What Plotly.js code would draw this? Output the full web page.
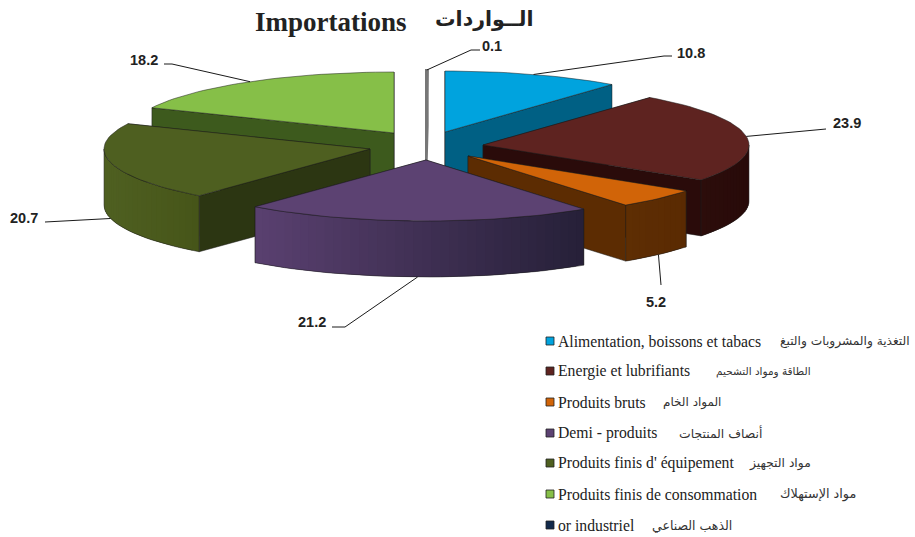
<!DOCTYPE html>
<html><head><meta charset="utf-8">
<script src="https://cdn.plot.ly/plotly-3.0.1.min.js"></script>
<style>html,body{margin:0;padding:0;background:#fff}#c{width:915px;height:537px}</style>
</head><body><div id="c"></div>
<script>
// ---- data ----
const categories = ["Alimentation, boissons et tabacs","Energie et lubrifiants","Produits bruts","Demi - produits","Produits finis d' équipement","Produits finis de consommation","or industriel"];
const categoriesAr = ["التغذية والمشروبات والتبغ","الطاقة ومواد التشحيم","المواد الخام","أنصاف المنتجات","مواد التجهيز","مواد الإستهلاك","الذهب الصناعي"];
const values = [10.8,23.9,5.2,21.2,20.7,18.2,0.1];
const valueLabels = ["10.8","23.9","5.2","21.2","20.7","18.2","0.1"];
// ---- styles ----
const topColors  = ["#00A3DE","#5E2320","#D16408","#5C4272","#4E5F20","#86BF48","#8A8A8A"];
const sideColors = ["#006084","#2A0B0A","#5C2C02","#2E2440","#2C3612","#3D5A1D","#8A8A8A"];
const wallLeft   = ["#00648A","#2C0D0B","#5E2E03","#5A4070","#4F6021","#4F6021","#8A8A8A"];
const wallRight  = ["#00648A","#280A09","#5A2A02","#262038","#465519","#4F6021","#8A8A8A"];
const swatchColors = ["#00A3DE","#5E2320","#D16408","#5C4272","#4E5F20","#86BF48","#12294B"];
const arSizes = [12.2,10.5,12,12.4,12.3,12.8,12.5];
// ---- layout geometry (pixels in a 915x537 plot space) ----
const RX=266, RY=61, DEPTH=56;
const apexX=[445,483,468,426,370,394,426];
const apexY=[132,145,156,160,149,133,131];
const drawOrder=[0,5,6,1,4,2,3];
const legendY=[341,371,402,433,463,494,525];
const legendArRight=[911,812,722,764,812,857,733];
const labelPos=[[691,53],[847,123],[656,302],[312,322],[24,218],[144,60],[492,46]];
const leaderBottom=[0,0,1,1,1,0,0];
const leaderElbows=[[[664,56],[672,56]],[[826,129]],[[661,285]],[[345,327],[332,327]],[[45,222]],[[172,64],[164,64]],[[471,50],[480,50]]];
const EDGE="#1c1c1c";

const traces=[];
const rad=d=>d*Math.PI/180;
function px(i,t){return apexX[i]+RX*Math.sin(rad(t));}
function py(i,t,dz){return apexY[i]-RY*Math.cos(rad(t))+(dz||0);}
function poly(xs,ys,fill,lineColor,w){
  traces.push({type:"scatter",mode:"lines",x:[...xs,xs[0]],y:[...ys,ys[0]],fill:"toself",fillcolor:fill,
    line:{color:lineColor,width:w},hoverinfo:"skip",showlegend:false});
}
function mix(a,b,f){
  const p=s=>[1,3,5].map(k=>parseInt(s.substr(k,2),16));
  const A=p(a),B=p(b);
  return "rgb("+A.map((v,k)=>Math.round(v+(B[k]-v)*f)).join(",")+")";
}
function arc(a,b){const n=Math.max(2,Math.ceil((b-a)/2));const r=[];for(let k=0;k<=n;k++)r.push(a+(b-a)*k/n);return r;}

let cum=0; const ranges=values.map(v=>{const s=cum;cum+=v*3.6;return [s,cum];});

function drawSlice(i){
  const [a,b]=ranges[i];
  const mid=(a+b)/2;
  const faces=[a,b].map(t=>{
    const ex=RX*Math.sin(rad(t)),ey=-RY*Math.cos(rad(t));
    const mx=RX*Math.sin(rad(mid)),my=-RY*Math.cos(rad(mid));
    return {t,vis:(ex*my-ey*mx)*ex<0};
  }).sort((p,q)=>p.vis-q.vis);
  const w=i===6?2:0.5, edge=i===6?"#777777":EDGE;
  faces.forEach(f=>{
    poly([apexX[i],px(i,f.t),px(i,f.t),apexX[i]],
         [apexY[i],py(i,f.t),py(i,f.t,DEPTH),apexY[i]+DEPTH],sideColors[i],edge,w);
  });
  // outer wall, only on the front half of the rim
  const wa=Math.max(a,90),wb=Math.min(b,270);
  if(wb>wa){
    const ts=arc(wa,wb);
    const minX=Math.min(...ts.map(t=>px(i,t))),maxX=Math.max(...ts.map(t=>px(i,t)));
    for(let k=0;k<ts.length-1;k++){
      const t0=ts[k],t1=ts[Math.min(k+2,ts.length-1)];
      const f=((px(i,t0)+px(i,ts[k+1]))/2-minX)/(maxX-minX||1);
      const c=mix(wallLeft[i],wallRight[i],f);
      poly([px(i,t0),px(i,t1),px(i,t1),px(i,t0)],[py(i,t0),py(i,t1),py(i,t1,DEPTH),py(i,t0,DEPTH)],c,c,0);
    }
    const X=[...ts.map(t=>px(i,t)),...ts.slice().reverse().map(t=>px(i,t))];
    const Y=[...ts.map(t=>py(i,t)),...ts.slice().reverse().map(t=>py(i,t,DEPTH))];
    traces.push({type:"scatter",mode:"lines",x:[...X,X[0]],y:[...Y,Y[0]],line:{color:EDGE,width:0.5},hoverinfo:"skip",showlegend:false});
  }
  const ts=arc(a,b);
  poly([apexX[i],...ts.map(t=>px(i,t))],[apexY[i],...ts.map(t=>py(i,t))],topColors[i],edge,w);
}
drawOrder.forEach(drawSlice);

// leader lines
values.forEach((v,i)=>{
  const m=(ranges[i][0]+ranges[i][1])/2;
  const sx=px(i,m), sy=py(i,m,leaderBottom[i]?DEPTH:0);
  traces.push({type:"scatter",mode:"lines",x:[sx,...leaderElbows[i].map(p=>p[0])],y:[sy,...leaderElbows[i].map(p=>p[1])],
    line:{color:"#1a1a1a",width:1},hoverinfo:"skip",showlegend:false});
});
// legend swatches
traces.push({type:"scatter",mode:"markers",x:categories.map(()=>550),y:legendY,
  marker:{symbol:"square",size:8,color:swatchColors,line:{color:"#222",width:0.8}},hoverinfo:"skip",showlegend:false});

const ann=[];
function T(x,y,text,anchor,font){ann.push({x,y,text,xref:"x",yref:"y",xanchor:anchor,yanchor:"middle",showarrow:false,font,borderpad:0});}
T(254,22,"<b>Importations</b>","left",{family:"Liberation Serif",size:27,color:"#222"});
T(535,19,"<b>الــواردات</b>","right",{family:"DejaVu Sans",size:20.5,color:"#222"});
valueLabels.forEach((s,i)=>T(labelPos[i][0],labelPos[i][1],"<b>"+s+"</b>","center",{family:"Liberation Sans",size:14.5,color:"#222"}));
categories.forEach((c,i)=>{
  T(557,legendY[i],c,"left",{family:"Liberation Serif",size:15.7,color:"#222"});
  T(legendArRight[i],legendY[i],categoriesAr[i],"right",{family:"DejaVu Sans",size:arSizes[i],color:"#333"});
});

Plotly.newPlot("c",traces,{
  width:915,height:537,margin:{l:0,r:0,t:0,b:0},paper_bgcolor:"#fff",plot_bgcolor:"#fff",showlegend:false,
  xaxis:{range:[0,915],visible:false,fixedrange:true},
  yaxis:{range:[537,0],visible:false,fixedrange:true},
  annotations:ann
},{displayModeBar:false,staticPlot:true});
</script></body></html>
